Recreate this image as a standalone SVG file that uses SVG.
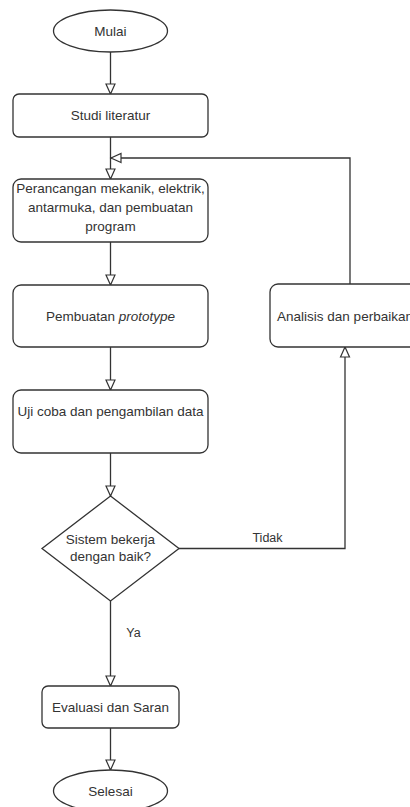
<svg xmlns="http://www.w3.org/2000/svg" width="410" height="807" viewBox="0 0 410 807">
<style>
.shape{fill:#fff;stroke:#333;stroke-width:1.3}
.t{font-family:"Liberation Sans",Arial,sans-serif;font-size:13.5px;fill:#333;text-anchor:middle;dominant-baseline:central}
.lbl{font-family:"Liberation Sans",Arial,sans-serif;font-size:12.5px;fill:#333;text-anchor:middle;dominant-baseline:central}
.c{fill:none;stroke:#333;stroke-width:1.3}
</style>
<defs>
<marker id="arr" viewBox="-1 -1 12 11" refX="10" refY="4.5" markerWidth="12" markerHeight="11" markerUnits="userSpaceOnUse" orient="auto" overflow="visible">
<path d="M0,0 L10,4.5 L0,9 Z" fill="#fff" stroke="#333" stroke-width="1.2"/>
</marker>
</defs>
<rect width="410" height="807" fill="#fff"/>
<g id="connectors">
<path class="c" d="M110.5,52 V94" marker-end="url(#arr)"/>
<path class="c" d="M110.5,137 V179" marker-end="url(#arr)"/>
<path class="c" d="M350,284 V158 H111" marker-end="url(#arr)"/>
<path class="c" d="M110.5,242 V285" marker-end="url(#arr)"/>
<path class="c" d="M110.5,347 V390" marker-end="url(#arr)"/>
<path class="c" d="M110.5,453 V496" marker-end="url(#arr)"/>
<path class="c" d="M110.5,601 V686" marker-end="url(#arr)"/>
<path class="c" d="M110.5,728 V770" marker-end="url(#arr)"/>
<path class="c" d="M179,548.5 H345 V347" marker-end="url(#arr)"/>
<text class="lbl" x="267.5" y="538">Tidak</text>
<text class="lbl" x="133.5" y="633">Ya</text>
</g>
<g id="mulai">
<ellipse class="shape" cx="110.5" cy="31" rx="57" ry="21"/>
<text class="t" x="110.5" y="31">Mulai</text>
</g>
<g id="studi">
<rect class="shape" x="13" y="94" width="195" height="43" rx="6"/>
<text class="t" x="110.5" y="115.5">Studi literatur</text>
</g>
<g id="perancangan">
<rect class="shape" x="13" y="179" width="195" height="63" rx="8"/>
<text class="t" x="110.5" y="188">Perancangan mekanik, elektrik,</text>
<text class="t" x="110.5" y="207">antarmuka, dan pembuatan</text>
<text class="t" x="110.5" y="226">program</text>
</g>
<g id="pembuatan">
<rect class="shape" x="13" y="285" width="195" height="62" rx="8"/>
<text class="t" x="110.5" y="316">Pembuatan <tspan font-style="italic">prototype</tspan></text>
</g>
<g id="analisis">
<rect class="shape" x="270" y="284" width="160" height="63" rx="8"/>
<text class="t" x="345" y="316">Analisis dan perbaikan</text>
</g>
<g id="uji">
<rect class="shape" x="13" y="390" width="195" height="63" rx="8"/>
<text class="t" x="110.5" y="411">Uji coba dan pengambilan data</text>
</g>
<g id="keputusan">
<polygon class="shape" points="110.5,496 179,548.5 110.5,601 42,548.5"/>
<text class="t" x="110.5" y="539">Sistem bekerja</text>
<text class="t" x="110.5" y="556">dengan baik?</text>
</g>
<g id="evaluasi">
<rect class="shape" x="42" y="686" width="137" height="42" rx="6"/>
<text class="t" x="110.5" y="707">Evaluasi dan Saran</text>
</g>
<g id="selesai">
<ellipse class="shape" cx="110.5" cy="791" rx="57" ry="21"/>
<text class="t" x="110.5" y="791">Selesai</text>
</g>
</svg>
